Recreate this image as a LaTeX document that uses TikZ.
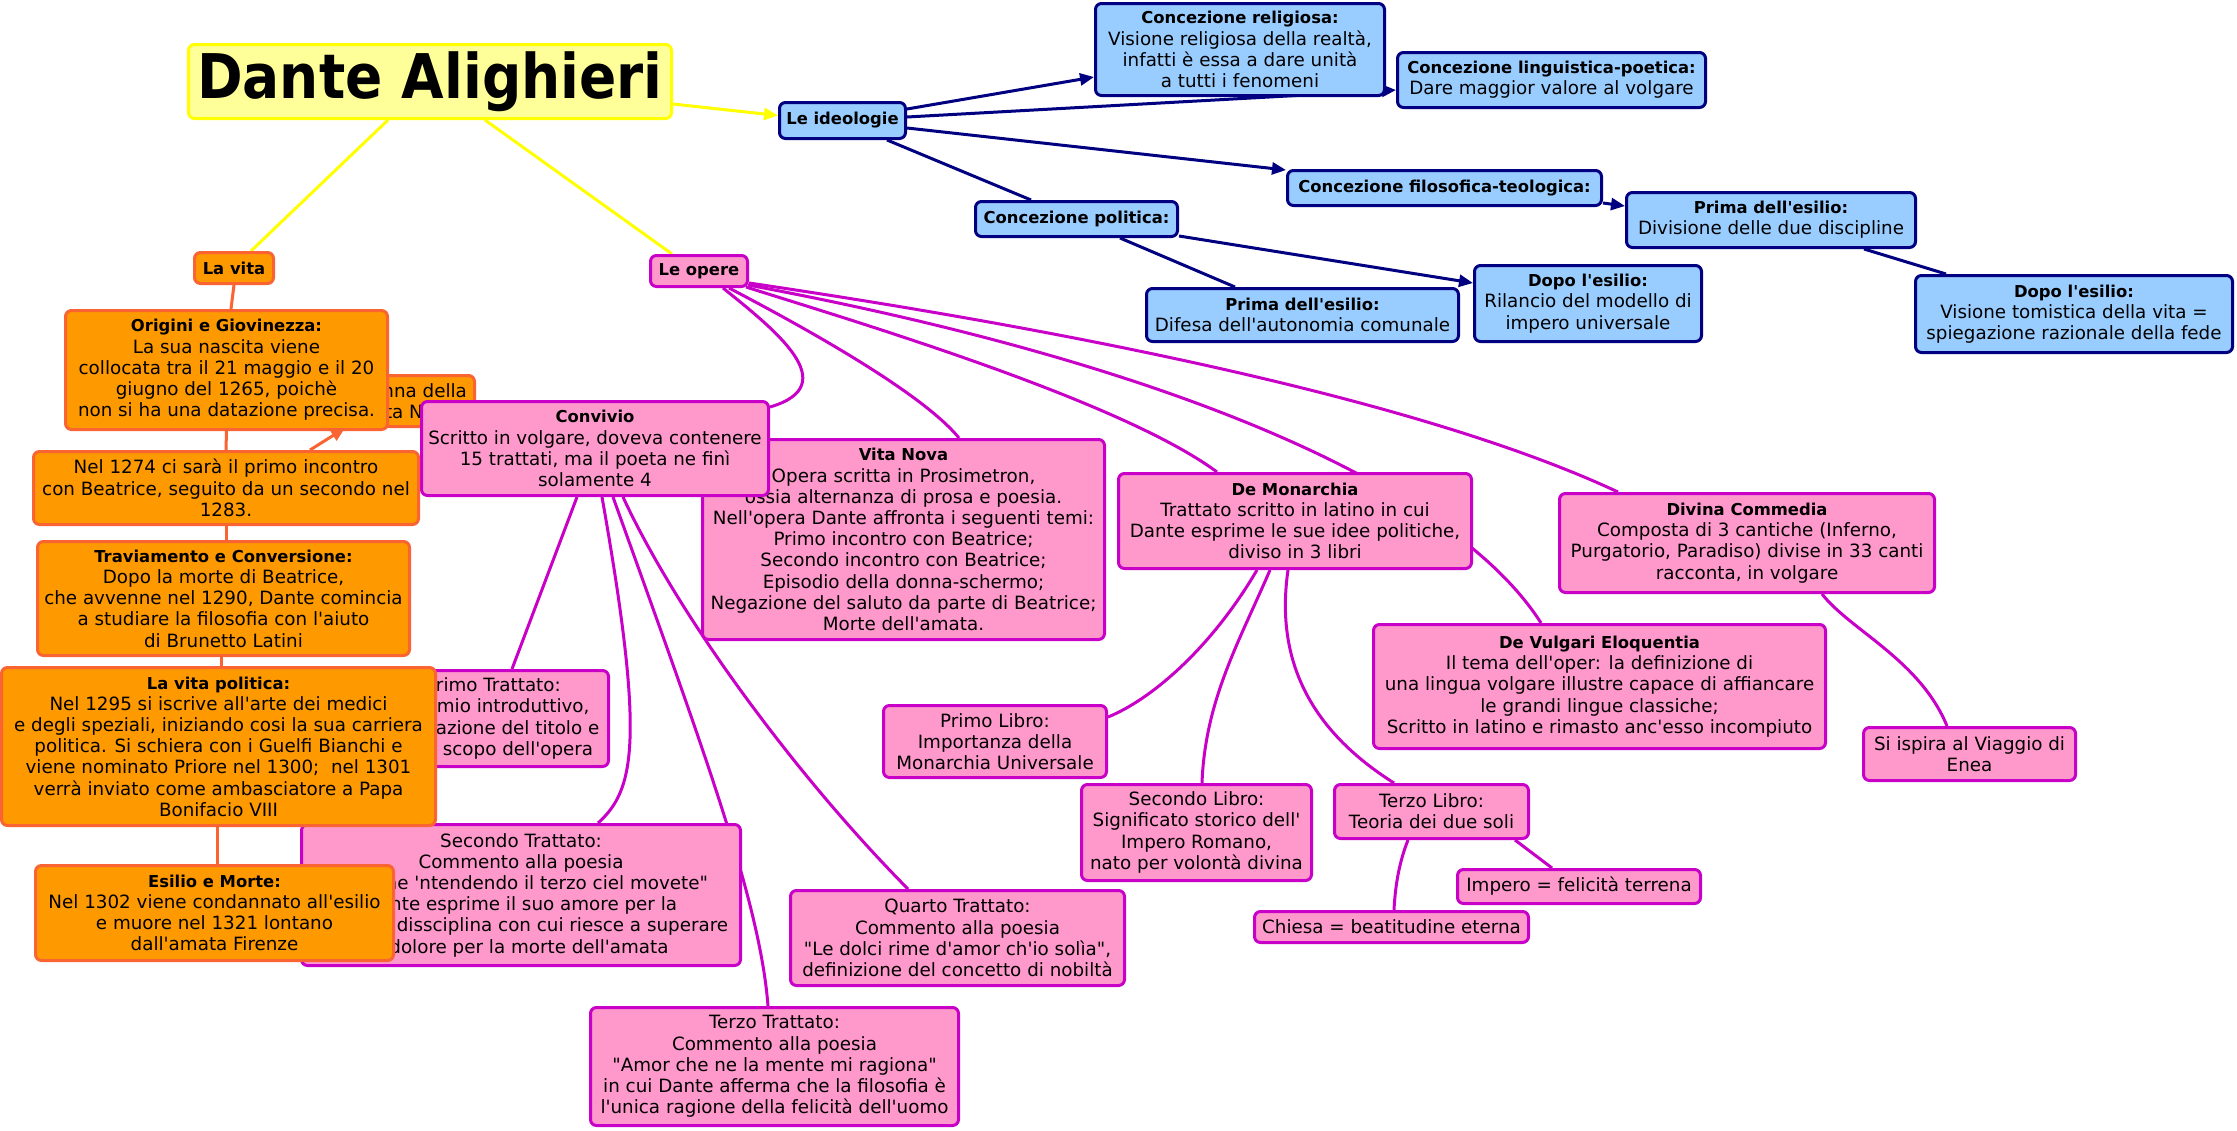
\documentclass[tikz,border=0pt]{standalone}
\usepackage{fontspec}
\usepackage{graphicx}
\usetikzlibrary{arrows.meta,backgrounds}
\newfontfamily\dv{DejaVu Sans}
\definecolor{yel}{RGB}{255,255,0}
\definecolor{yelfill}{RGB}{255,255,153}
\definecolor{navy}{RGB}{0,0,128}
\definecolor{bluefill}{RGB}{153,204,255}
\definecolor{orline}{RGB}{250,100,50}
\definecolor{orfill}{RGB}{255,153,0}
\definecolor{pkline}{RGB}{200,0,200}
\definecolor{pkfill}{RGB}{255,153,204}
\newcommand{\hdr}[1]{{\fontsize{16.4}{21.2}\selectfont\bfseries #1}}
\tikzset{
  base/.style={rounded corners=6pt, line width=3pt, align=center, inner sep=2pt,
    font=\dv\fontsize{18.3}{21.2}\selectfont, text=black},
  ybox/.style={base, draw=yel, fill=yelfill},
  bbox/.style={base, draw=navy, fill=bluefill},
  obox/.style={base, draw=orline, fill=orfill},
  pbox/.style={base, draw=pkline, fill=pkfill},
  sz/.style 2 args={minimum width=#1pt, minimum height=#2pt},
  ylink/.style={draw=yel, line width=3pt},
  blink/.style={draw=navy, line width=3pt},
  olink/.style={draw=orline, line width=3pt},
  plink/.style={draw=pkline, line width=3pt},
  tipy/.style={-{Triangle[length=14pt,width=12pt]}},
}
\begin{document}
\begin{tikzpicture}[x=1pt,y=-1pt]
\useasboundingbox (0,0) rectangle (2237,1130);
\begin{pgfonlayer}{background}
\fill[white] (0,0) rectangle (2237,1130);
\end{pgfonlayer}

% ---- yellow
\node[ybox, sz={483}{74}] (dante) at (430,81.5)
  {\fontsize{55}{60}\selectfont\bfseries\scalebox{1}[1.12]{Dante Alighieri}};

% ---- blue
\node[bbox, sz={126}{36}] (ideo) at (842.5,120.5) {\hdr{Le ideologie}};
\node[bbox, sz={289}{92}] (relig) at (1240,49.5)
  {\hdr{Concezione religiosa:}\\Visione religiosa della realtà,\\infatti è essa a dare unità\\a tutti i fenomeni};
\node[bbox, sz={308}{55}] (ling) at (1551.5,80)
  {\hdr{Concezione linguistica-poetica:}\\Dare maggior valore al volgare};
\node[bbox, sz={314}{35}] (filo) at (1444.5,188) {\hdr{Concezione filosofica-teologica:}};
\node[bbox, sz={202}{35}] (pol) at (1076.5,219) {\hdr{Concezione politica:}};
\node[bbox, sz={312}{53}] (polprima) at (1302.5,315)
  {\hdr{Prima dell'esilio:}\\Difesa dell'autonomia comunale};
\node[bbox, sz={227}{76}] (poldopo) at (1588,303.5)
  {\hdr{Dopo l'esilio:}\\Rilancio del modello di\\impero universale};
\node[bbox, sz={289}{55}] (filoprima) at (1771,220)
  {\hdr{Prima dell'esilio:}\\Divisione delle due discipline};
\node[bbox, sz={317}{77}] (filodopo) at (2074,314)
  {\hdr{Dopo l'esilio:}\\Visione tomistica della vita =\\spiegazione razionale della fede};

% ---- hidden orange node and pink nodes below orange ones
\node[obox, sz={125}{51}] (hidden) at (412,401) {Donna della\\Vita Nova};
\node[pbox, sz={231}{96}] (primotr) at (493,718.5)
  {Primo Trattato:\\Proemio introduttivo,\\spiegazione del titolo e\\dello scopo dell'opera};
\node[pbox, sz={439}{141}] (secondotr) at (521,895)
  {Secondo Trattato:\\Commento alla poesia\\"Voi che 'ntendendo il terzo ciel movete"\\Dante esprime il suo amore per la\\filosofia, dissciplina con cui riesce a superare\\il dolore per la morte dell'amata};
\node[pbox, sz={402}{200}] (vitanova) at (903.5,539.5)
  {\hdr{Vita Nova}\\Opera scritta in Prosimetron,\\ossia alternanza di prosa e poesia.\\Nell'opera Dante affronta i seguenti temi:\\Primo incontro con Beatrice;\\Secondo incontro con Beatrice;\\Episodio della donna-schermo;\\Negazione del saluto da parte di Beatrice;\\Morte dell'amata.};
\node[pbox, sz={347}{94}] (convivio) at (595,448.5)
  {\hdr{Convivio}\\Scritto in volgare, doveva contenere\\15 trattati, ma il poeta ne finì\\solamente 4};
\node[pbox, sz={97}{31}] (opere) at (699,271) {\hdr{Le opere}};
\node[pbox, sz={368}{118}] (terzotr) at (774.5,1066.5)
  {Terzo Trattato:\\Commento alla poesia\\"Amor che ne la mente mi ragiona"\\in cui Dante afferma che la filosofia è\\l'unica ragione della felicità dell'uomo};
\node[pbox, sz={334}{95}] (quartotr) at (957.5,938)
  {Quarto Trattato:\\Commento alla poesia\\"Le dolci rime d'amor ch'io solìa",\\definizione del concetto di nobiltà};
\node[pbox, sz={353}{95}] (monarchia) at (1295,521)
  {\hdr{De Monarchia}\\Trattato scritto in latino in cui\\Dante esprime le sue idee politiche,\\diviso in 3 libri};
\node[pbox, sz={223}{72}] (primolib) at (995,741.5)
  {Primo Libro:\\Importanza della\\Monarchia Universale};
\node[pbox, sz={230}{96}] (secondolib) at (1196.5,832.5)
  {Secondo Libro:\\Significato storico dell'\\Impero Romano,\\nato per volontà divina};
\node[pbox, sz={194}{54}] (terzolib) at (1431.5,811.5)
  {Terzo Libro:\\Teoria dei due soli};
\node[pbox, sz={243}{34}] (impero) at (1579,886.5) {Impero = felicità terrena};
\node[pbox, sz={274}{31}] (chiesa) at (1391.5,927) {Chiesa = beatitudine eterna};
\node[pbox, sz={452}{124}] (vulgari) at (1599.5,686.5)
  {\hdr{De Vulgari Eloquentia}\\Il tema dell'oper: la definizione di\\una lingua volgare illustre capace di affiancare\\le grandi lingue classiche;\\Scritto in latino e rimasto anc'esso incompiuto};
\node[pbox, sz={375}{99}] (divina) at (1747,543)
  {\hdr{Divina Commedia}\\Composta di 3 cantiche (Inferno,\\Purgatorio, Paradiso) divise in 33 canti\\racconta, in volgare};
\node[pbox, sz={212}{53}] (enea) at (1969.5,754)
  {Si ispira al Viaggio di\\Enea};

% ---- orange
\node[obox, sz={79}{31}] (vita) at (234,268) {\hdr{La vita}};
\node[obox, sz={322}{119}] (origini) at (226.5,370)
  {\hdr{Origini e Giovinezza:}\\La sua nascita viene\\collocata tra il 21 maggio e il 20\\giugno del 1265, poichè\\non si ha una datazione precisa.};
\node[obox, sz={385}{73}] (nel1274) at (226,488)
  {Nel 1274 ci sarà il primo incontro\\con Beatrice, seguito da un secondo nel\\1283.};
\node[obox, sz={372}{114}] (trav) at (223.5,598.5)
  {\hdr{Traviamento e Conversione:}\\Dopo la morte di Beatrice,\\che avvenne nel 1290, Dante comincia\\a studiare la filosofia con l'aiuto\\di Brunetto Latini};
\node[obox, sz={434}{158}] (politica) at (218.5,746.5)
  {\hdr{La vita politica:}\\Nel 1295 si iscrive all'arte dei medici\\e degli speziali, iniziando cosi la sua carriera\\politica. Si schiera con i Guelfi Bianchi e\\viene nominato Priore nel 1300;~ nel 1301\\verrà inviato come ambasciatore a Papa\\Bonifacio VIII};
\node[obox, sz={358}{95}] (esilio) at (214.5,913)
  {\hdr{Esilio e Morte:}\\Nel 1302 viene condannato all'esilio\\e muore nel 1321 lontano\\dall'amata Firenze};

% ---- connectors
\begin{pgfonlayer}{background}
\draw[ylink,tipy] ([yshift=-22.5pt]dante.east) -- ([yshift=5pt]ideo.west);
\draw[ylink] ([xshift=-42pt]dante.south) -- ([xshift=17pt]vita.north);
\draw[ylink] ([xshift=55pt]dante.south) -- ([xshift=-27pt]opere.north);

\draw[blink,tipy] ([yshift=11.5pt]ideo.east) -- ([yshift=-27.5pt]relig.west);
\draw[blink,tipy] ([yshift=3.5pt]ideo.east) -- ([yshift=-10pt]ling.west);
\draw[blink,tipy] ([yshift=-7.5pt]ideo.east) -- ([yshift=18pt]filo.west);
\draw[blink] ([xshift=44.5pt]ideo.south) -- ([xshift=-45.5pt]pol.north);
\draw[blink,tipy] ([yshift=-15pt]filo.east) -- ([yshift=14pt]filoprima.west);
\draw[blink] ([xshift=93pt]filoprima.south) -- ([xshift=-128pt]filodopo.north);
\draw[blink,tipy] ([yshift=-17pt]pol.east) -- ([yshift=20.5pt]poldopo.west);
\draw[blink] ([xshift=43.5pt]pol.south) -- ([xshift=-67.5pt]polprima.north);

\draw[olink] (vita.south) -- ([xshift=4.5pt]origini.north);
\draw[olink] (origini.south) -- (nel1274.north);
\draw[olink,tipy] ([xshift=84pt]nel1274.north) -- ([xshift=-67pt]hidden.south);
\draw[olink] (nel1274.south) -- ([xshift=2.5pt]trav.north);
\draw[olink] ([xshift=-2.5pt]trav.south) -- ([xshift=2.5pt]politica.north);
\draw[olink] ([xshift=-1.5pt]politica.south) -- ([xshift=2.5pt]esilio.north);

\draw[plink] ([xshift=24pt]opere.south) .. controls (775,330) and (845,385) .. ([yshift=41.5pt]convivio.east);
\draw[plink] ([xshift=30pt]opere.south) .. controls (790,320) and (920,390) .. ([xshift=55.5pt]vitanova.north);
\draw[plink] ([xshift=-3pt,yshift=1pt]opere.south east) .. controls (850,320) and (1120,400) .. ([xshift=-78pt]monarchia.north);
\draw[plink] ([xshift=-1pt,yshift=3pt]opere.south east) .. controls (1150,360) and (1450,480) .. ([xshift=-58.5pt]vulgari.north);
\draw[plink] ([yshift=-12pt]opere.east) .. controls (1000,320) and (1400,390) .. ([xshift=-129pt]divina.north);

\draw[plink] ([xshift=-18pt]convivio.south) -- ([xshift=19pt]primotr.north);
\draw[plink] ([xshift=7pt]convivio.south) .. controls (645,740) and (635,790) .. ([xshift=77pt]secondotr.north);
\draw[plink] ([xshift=18pt]convivio.south) .. controls (700,740) and (760,900) .. ([xshift=-6.5pt]terzotr.north);
\draw[plink] ([xshift=28pt]convivio.south) .. controls (680,620) and (800,780) .. ([xshift=-49.5pt]quartotr.north);

\draw[plink] ([xshift=-38pt]monarchia.south) .. controls (1210,650) and (1150,700) .. ([yshift=24.5pt]primolib.east);
\draw[plink] ([xshift=-25pt]monarchia.south) .. controls (1240,640) and (1205,700) .. ([xshift=5.5pt]secondolib.north);
\draw[plink] ([xshift=-7pt]monarchia.south) .. controls (1275,660) and (1310,730) .. ([xshift=-37.5pt]terzolib.north);
\draw[plink] ([xshift=83.5pt]terzolib.south) -- ([xshift=-27pt]impero.north);
\draw[plink] ([xshift=-23.5pt]terzolib.south) .. controls (1398,865) and (1395,890) .. ([xshift=2.5pt]chiesa.north);
\draw[plink] ([xshift=75pt]divina.south) .. controls (1850,630) and (1920,660) .. ([xshift=-22.5pt]enea.north);
\end{pgfonlayer}
\end{tikzpicture}
\end{document}
